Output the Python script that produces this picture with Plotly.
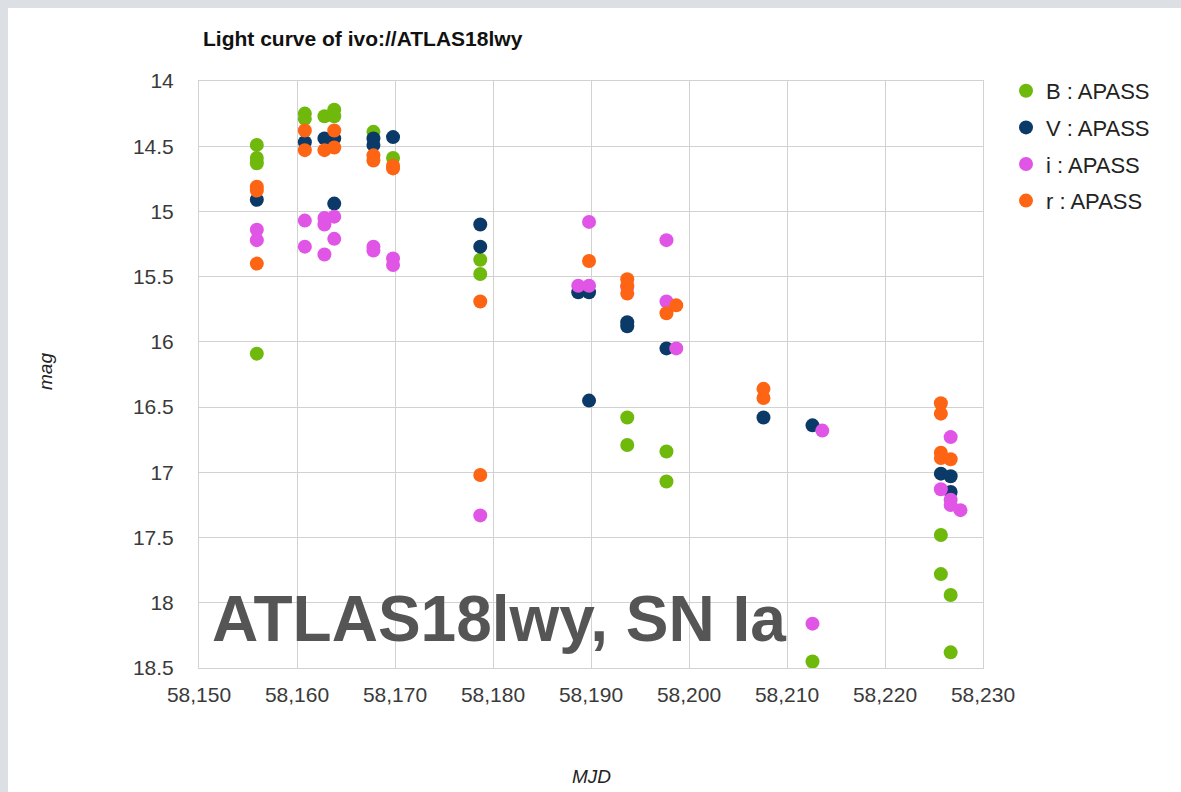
import plotly.graph_objects as go

# APASS photometry of ATLAS18lwy, one list pair per band
b_mjd = [58155.9, 58155.9, 58155.9, 58155.9, 58160.8, 58160.8, 58162.8, 58163.8, 58163.8,
         58167.8, 58169.8, 58178.7, 58178.7, 58193.7, 58193.7, 58197.7, 58197.7,
         58212.6, 58225.7, 58225.7, 58226.7, 58226.7]
b_mag = [14.49, 14.59, 14.63, 16.09, 14.25, 14.29, 14.27, 14.22, 14.27,
         14.39, 14.59, 15.37, 15.48, 16.58, 16.79, 16.84, 17.07,
         18.45, 17.48, 17.78, 17.94, 18.38]

v_mjd = [58155.9, 58160.8, 58162.8, 58163.8, 58163.8, 58167.8, 58167.8, 58169.8,
         58178.7, 58178.7, 58188.7, 58189.8, 58189.8, 58193.7, 58193.7, 58197.7,
         58207.6, 58212.6, 58225.7, 58226.7, 58226.7]
v_mag = [14.91, 14.47, 14.44, 14.44, 14.94, 14.44, 14.49, 14.43,
         15.10, 15.27, 15.62, 15.62, 16.45, 15.85, 15.88, 16.05,
         16.58, 16.64, 17.01, 17.03, 17.15]

i_mjd = [58155.9, 58155.9, 58160.8, 58160.8, 58162.8, 58162.8, 58162.8, 58163.8, 58163.8,
         58167.8, 58167.8, 58169.8, 58169.8, 58178.7, 58188.7, 58189.8, 58189.8,
         58193.7, 58197.7, 58197.7, 58198.7, 58212.6, 58213.6, 58225.7,
         58226.7, 58226.7, 58226.7, 58227.7]
i_mag = [15.14, 15.22, 15.07, 15.27, 15.05, 15.10, 15.33, 15.04, 15.21,
         15.27, 15.30, 15.36, 15.41, 17.33, 15.57, 15.08, 15.57,
         15.58, 15.22, 15.69, 16.05, 18.16, 16.68, 17.13,
         16.73, 17.21, 17.25, 17.29]

r_mjd = [58155.9, 58155.9, 58155.9, 58160.8, 58160.8, 58162.8, 58163.8, 58163.8,
         58167.8, 58167.8, 58169.8, 58169.8, 58178.7, 58178.7, 58189.8,
         58193.7, 58193.7, 58193.7, 58197.7, 58198.7, 58207.6, 58207.6,
         58225.7, 58225.7, 58225.7, 58225.7, 58226.7]
r_mag = [14.81, 14.84, 15.40, 14.38, 14.53, 14.53, 14.38, 14.51,
         14.57, 14.61, 14.65, 14.67, 15.69, 17.02, 15.38,
         15.52, 15.57, 15.63, 15.78, 15.72, 16.36, 16.43,
         16.47, 16.55, 16.85, 16.89, 16.90]

band_names = ["B : APASS", "V : APASS", "i : APASS", "r : APASS"]
band_colors = ["#6fb80c", "#0b3a68", "#e055e6", "#fd6414"]

x_ticks = [58150, 58160, 58170, 58180, 58190, 58200, 58210, 58220, 58230]

FONT = "Liberation Sans, Arial, sans-serif"

fig = go.Figure()
for name, xs, ys, col in zip(band_names, [b_mjd, v_mjd, i_mjd, r_mjd],
                             [b_mag, v_mag, i_mag, r_mag], band_colors):
    fig.add_trace(go.Scatter(
        x=xs, y=ys, mode="markers", name=name, legendgroup=name,
        marker=dict(color=col, size=14, line=dict(width=0)),
    ))

# plot area in pixels: x 199..983, y 81..668
L, R, T, B = 199, 983, 81, 668
W, H = R - L, B - T


def px(xp):
    return (xp - L) / W


def py(yp):
    return (B - yp) / H


fig.update_layout(
    width=1181, height=792,
    margin=dict(l=L, r=1181 - R, t=T, b=792 - B),
    paper_bgcolor="#dcdfe3",
    plot_bgcolor="white",
    font=dict(family=FONT, color="#222222"),
    showlegend=True,
    legend=dict(
        x=px(1006), y=py(70), xanchor="left", yanchor="top",
        font=dict(size=22, color="#222222", family=FONT),
        tracegroupgap=5, bgcolor="rgba(0,0,0,0)",
    ),
    xaxis=dict(
        range=[58150, 58230], tickvals=x_ticks, tickformat=",d",
        showgrid=True, gridcolor="#d2d2d2", gridwidth=1,
        showline=True, linecolor="#d2d2d2", mirror=True, zeroline=False,
        tickfont=dict(size=21, color="#3a3a3a"), ticklabelstandoff=8,
    ),
    yaxis=dict(
        range=[18.5, 14], dtick=0.5, tick0=14,
        showgrid=True, gridcolor="#d2d2d2", gridwidth=1,
        showline=True, linecolor="#d2d2d2", mirror=True, zeroline=False,
        tickfont=dict(size=21, color="#3a3a3a"), ticklabelstandoff=20,
    ),
    shapes=[dict(
        type="rect", xref="paper", yref="paper", layer="below",
        x0=px(8), x1=px(1200), y0=py(800), y1=py(8),
        fillcolor="white", line=dict(width=0),
    )],
    annotations=[
        dict(text="<b>Light curve of ivo://ATLAS18lwy</b>", xref="paper", yref="paper",
             x=px(201), y=py(38), xanchor="left", yanchor="middle", showarrow=False,
             font=dict(size=21, color="#111111", family=FONT)),
        dict(text="<i>mag</i>", xref="paper", yref="paper", x=px(45), y=py(372),
             textangle=-90, xanchor="center", yanchor="middle", showarrow=False,
             font=dict(size=19, color="#222222", family=FONT)),
        dict(text="<i>MJD</i>", xref="paper", yref="paper", x=px(591), y=py(776),
             xanchor="center", yanchor="middle", showarrow=False,
             font=dict(size=19, color="#222222", family=FONT)),
        dict(text="<b>ATLAS18lwy, SN Ia</b>", xref="paper", yref="paper",
             x=px(499), y=py(619), xanchor="center", yanchor="middle", showarrow=False,
             font=dict(size=64, color="#555555", family=FONT)),
    ],
)

fig.write_html("out.html")
